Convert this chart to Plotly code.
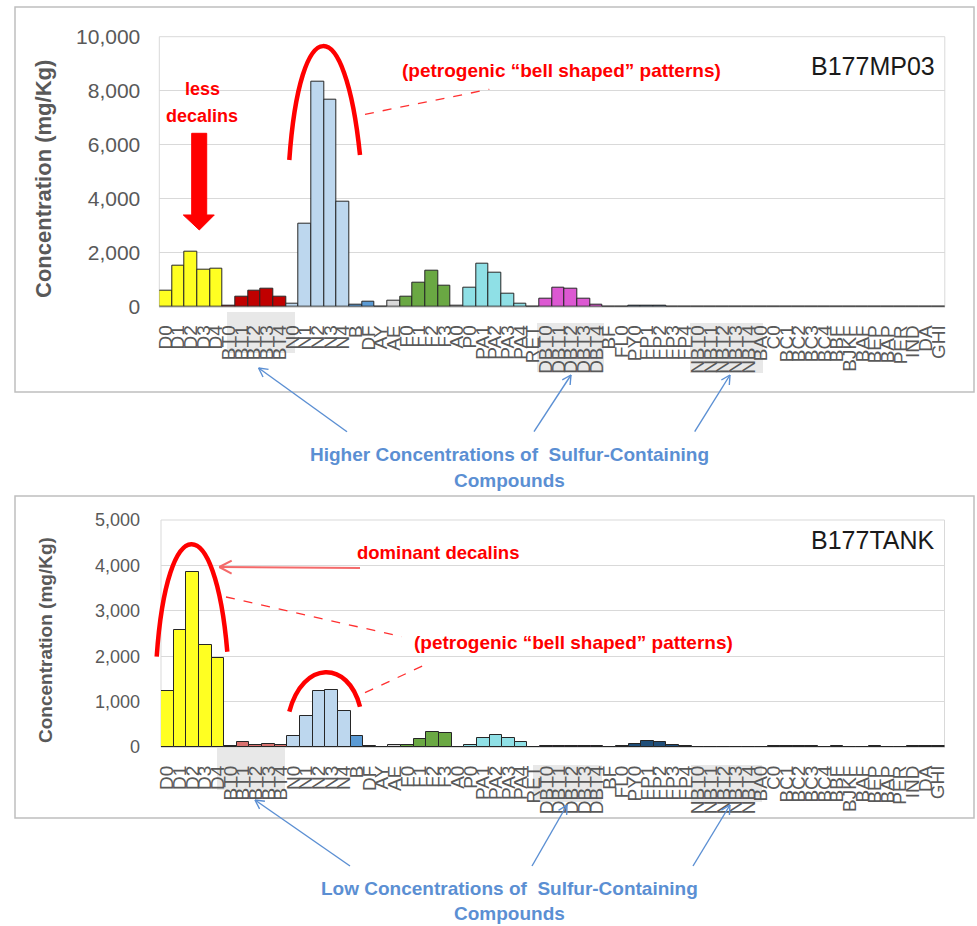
import math
import plotly.graph_objects as go

W, H = 977, 926

# ---------------- data ----------------
labels = ["D0", "D1", "D2", "D3", "D4",
          "BT0", "BT1", "BT2", "BT3", "BT4",
          "N0", "N1", "N2", "N3", "N4",
          "B", "DF", "AY", "AE",
          "F0", "F1", "F2", "F3",
          "A0", "P0", "PA1", "PA2", "PA3", "PA4", "RET",
          "DBT0", "DBT1", "DBT2", "DBT3", "DBT4",
          "BF", "FL0", "PY0", "FP1", "FP2", "FP3", "FP4",
          "NBT0", "NBT1", "NBT2", "NBT3", "NBT4",
          "BA0", "C0", "BC1", "BC2", "BC3", "BC4",
          "BBF", "BJKF", "BAF", "BEP", "BAP", "PER", "IND", "DA", "GHI"]

mp03_values = [608, 1510, 2055, 1388, 1425,
               20, 371, 608, 657, 371,
               124, 3057, 8337, 7670, 3873,
               89, 174, 0, 237,
               371, 890, 1336, 794,
               30, 705, 1610, 1276, 465, 126, 0,
               312, 705, 657, 312, 89,
               0, 0, 30, 30, 30, 0, 0,
               0, 0, 0, 0, 0,
               0, 0, 0, 0, 0, 0,
               0, 0, 0, 0, 0, 0, 0, 0, 0]

tank_values = [1226, 2572, 3851, 2239, 1966,
               25, 103, 50, 75, 50,
               244, 672, 1226, 1248, 798,
               244, 20, 0, 44,
               37, 177, 340, 303,
               0, 52, 206, 266, 206, 100, 0,
               15, 15, 15, 15, 15,
               0, 15, 60, 126, 104, 38, 15,
               0, 0, 0, 0, 0,
               0, 15, 15, 15, 15, 0,
               15, 0, 0, 15, 0, 0, 15, 15, 15]

top_ticks = [0, 2000, 4000, 6000, 8000, 10000]
bottom_ticks = [0, 1000, 2000, 3000, 4000, 5000]

# ---------------- styles ----------------
FONT = "Liberation Sans, Arial, sans-serif"
GRAY_TXT = "#595959"
RED = "#ff0000"
BLUE_TXT = "#5b8fd3"


def group_of(lab):
    if lab.startswith("DBT"):
        return "DBT"
    if lab.startswith("NBT"):
        return "NBT"
    if lab.startswith("BT"):
        return "BT"
    if lab[0] == "D" and lab[1:].isdigit():
        return "D"
    if lab[0] == "N" and lab[1:].isdigit():
        return "N"
    if lab in ("B", "DF"):
        return "BDF"
    if lab in ("AY", "AE", "A0"):
        return "ACE"
    if lab[0] == "F" and lab[1:].isdigit():
        return "F"
    if lab in ("P0", "PA1", "PA2", "PA3", "PA4", "RET"):
        return "P"
    if lab in ("BF", "FL0", "PY0") or lab.startswith("FP"):
        return "FP"
    return "OTHER"


top_palette = {"D": "#ffff22", "BT": "#c00000", "N": "#bdd7ee", "BDF": "#5b9bd5",
               "ACE": "#d9d9d9", "F": "#6aa843", "P": "#8fe0e6", "DBT": "#dc58d2",
               "FP": "#1f4e79", "NBT": "#7f7f7f", "OTHER": "#404040"}
bottom_palette = dict(top_palette, BT="#d9726f")

top_colors = [top_palette[group_of(l)] for l in labels]
bottom_colors = [bottom_palette[group_of(l)] for l in labels]


def px(x):
    return x / W


def py(y):
    return 1 - y / H


def P(x, y):
    return f"{px(x):.5f},{py(y):.5f}"


fig = go.Figure()
fig.add_trace(go.Bar(x=labels, y=mp03_values, xaxis="x", yaxis="y",
                     marker=dict(color=top_colors, line=dict(color="#262626", width=1)),
                     showlegend=False, hoverinfo="x+y"))
fig.add_trace(go.Bar(x=labels, y=tank_values, xaxis="x2", yaxis="y2",
                     marker=dict(color=bottom_colors, line=dict(color="#262626", width=1)),
                     showlegend=False, hoverinfo="x+y"))

xcommon = dict(type="category", categoryorder="array", categoryarray=labels,
               tickmode="array", tickvals=labels, ticktext=labels, tickangle=-90,
               tickfont=dict(family=FONT, size=19, color=GRAY_TXT),
               showgrid=False, zeroline=False, showline=True, linecolor="#d9d9d9",
               linewidth=1, ticks="", ticklabelstandoff=10,
               range=[-0.5, len(labels) - 0.5],
               automargin=False, fixedrange=True)

fig.update_layout(
    width=W, height=H, autosize=False,
    margin=dict(l=0, r=0, t=0, b=0),
    paper_bgcolor="white", plot_bgcolor="rgba(0,0,0,0)",
    bargap=0, font=dict(family=FONT),
    xaxis=dict(xcommon, domain=[px(159.3), px(944.8)], anchor="y"),
    yaxis=dict(domain=[py(306.7), py(36.7)], range=[0, 10000], tickvals=top_ticks,
               tickformat=",d", tickfont=dict(family=FONT, size=21, color=GRAY_TXT),
               gridcolor="#d9d9d9", gridwidth=1, zeroline=False, showline=False,
               ticks="", ticklabelstandoff=18, automargin=False, fixedrange=True,
               anchor="x"),
    xaxis2=dict(xcommon, domain=[px(161), px(944.5)], anchor="y2"),
    yaxis2=dict(domain=[py(747), py(520)], range=[0, 5000], tickvals=bottom_ticks,
                tickformat=",d", tickfont=dict(family=FONT, size=18, color=GRAY_TXT),
                gridcolor="#d9d9d9", gridwidth=1, zeroline=False, showline=False,
                ticks="", ticklabelstandoff=20, automargin=False, fixedrange=True,
                anchor="x2"),
)

shapes = []
# outer chart frames
for (x0, y0, x1, y1) in [(15, 7, 974, 392), (15, 496, 974, 818)]:
    shapes.append(dict(type="rect", xref="paper", yref="paper", layer="below",
                       x0=px(x0), x1=px(x1), y0=py(y1), y1=py(y0),
                       line=dict(color="#bfbfbf", width=1.5), fillcolor="rgba(0,0,0,0)"))
# plot area borders
for xr, yr in [("x domain", "y domain"), ("x2 domain", "y2 domain")]:
    shapes.append(dict(type="rect", xref=xr, yref=yr, x0=0, x1=1, y0=0, y1=1,
                       layer="below", line=dict(color="#d9d9d9", width=1)))
# gray highlight boxes behind sulfur-compound labels
for (x0, y0, x1, y1) in [(227, 312, 295, 353), (537, 323, 604, 372), (690, 323, 763, 373),
                         (217, 748, 285, 790), (533, 765, 602, 802), (691, 765, 762, 802)]:
    shapes.append(dict(type="rect", xref="paper", yref="paper", layer="below",
                       x0=px(x0), x1=px(x1), y0=py(y1), y1=py(y0),
                       line=dict(width=0), fillcolor="rgba(205,205,205,0.45)"))

# red block arrow ("less decalins")
blk = [(191.7, 133.3), (206.7, 133.3), (206.7, 215), (214.3, 215), (199.3, 230),
       (183.3, 215), (191.7, 215)]
shapes.append(dict(type="path", xref="paper", yref="paper", layer="above",
                   path="M " + " L ".join(P(x, y) for x, y in blk) + " Z",
                   fillcolor=RED, line=dict(color=RED, width=1)))

# bell-shaped arcs
arcs = [((289.3, 160), (300, 9), (345, 9), (360, 155)),
        ((156.7, 656.7), (167, 507.7), (215, 507.7), (227.3, 651.7)),
        ((289.3, 711.7), (303, 660), (348, 660), (360, 706.7))]
for a, b, c, d in arcs:
    shapes.append(dict(type="path", xref="paper", yref="paper", layer="above",
                       path=f"M {P(*a)} C {P(*b)} {P(*c)} {P(*d)}",
                       line=dict(color=RED, width=4.5)))

# dashed leader lines
for (x0, y0, x1, y1) in [(365, 114.3, 489.3, 89.3), (226, 597, 401.7, 636.7),
                         (365, 692.7, 426.7, 664)]:
    shapes.append(dict(type="line", xref="paper", yref="paper", layer="above",
                       x0=px(x0), y0=py(y0), x1=px(x1), y1=py(y1),
                       line=dict(color="#ff3030", width=1.3, dash="dash")))


def arrow(x0, y0, x1, y1, color, width, hl=11, ang=26):
    """tail (x0,y0) -> head (x1,y1), pixel coords; open V head."""
    out = [dict(type="line", xref="paper", yref="paper", layer="above",
                x0=px(x0), y0=py(y0), x1=px(x1), y1=py(y1),
                line=dict(color=color, width=width))]
    th = math.atan2(y0 - y1, x0 - x1)
    for s in (-1, 1):
        t = th + s * math.radians(ang)
        out.append(dict(type="line", xref="paper", yref="paper", layer="above",
                        x0=px(x1), y0=py(y1), x1=px(x1 + hl * math.cos(t)),
                        y1=py(y1 + hl * math.sin(t)),
                        line=dict(color=color, width=width)))
    return out


# "dominant decalins" arrow
shapes += arrow(360, 568, 219.3, 567, "#f46a6a", 2, hl=14, ang=28)
# blue arrows to sulfur compound labels
for (x0, y0, x1, y1) in [(347, 431.7, 258.6, 368), (534, 431.7, 571, 375),
                         (694.7, 431.7, 730, 375),
                         (350, 866, 255, 800), (532, 866, 567, 805), (693, 866, 730, 805)]:
    shapes += arrow(x0, y0, x1, y1, "#5b8fd3", 1.4, hl=10, ang=28)

fig.update_layout(shapes=shapes)

ann = []


def text(x, y, s, size, color, bold=False, xanchor="center", angle=0):
    ann.append(dict(xref="paper", yref="paper", x=px(x), y=py(y), text=(f"<b>{s}</b>" if bold else s),
                    showarrow=False, xanchor=xanchor, yanchor="middle", textangle=angle,
                    font=dict(family=FONT, size=size, color=color)))


text(44, 179, "Concentration (mg/Kg)", 22, GRAY_TXT, bold=True, angle=-90)
text(45, 640, "Concentration (mg/Kg)", 19, GRAY_TXT, bold=True, angle=-90)
text(937, 66, "B177MP03", 25, "#1a1a1a", xanchor="right")
text(937, 540, "B177TANK", 25, "#1a1a1a", xanchor="right")
text(202, 89, "less", 18, RED, bold=True)
text(202, 116, "decalins", 18, RED, bold=True)
text(400, 70, "(petrogenic “bell shaped” patterns)", 19, RED, bold=True, xanchor="left")
text(355, 552, "dominant decalins", 18.5, RED, bold=True, xanchor="left")
text(412, 642, "(petrogenic “bell shaped” patterns)", 19, RED, bold=True, xanchor="left")
text(509, 455, "Higher Concentrations of  Sulfur-Containing", 19, BLUE_TXT, bold=True)
text(509, 480, "Compounds", 19, BLUE_TXT, bold=True)
text(509, 888, "Low Concentrations of  Sulfur-Containing", 19, BLUE_TXT, bold=True)
text(509, 913, "Compounds", 19, BLUE_TXT, bold=True)

fig.update_layout(annotations=ann)

fig.write_html("out.html", config={"displayModeBar": False},
               post_script="document.body.style.margin='0';document.body.style.padding='0';")
